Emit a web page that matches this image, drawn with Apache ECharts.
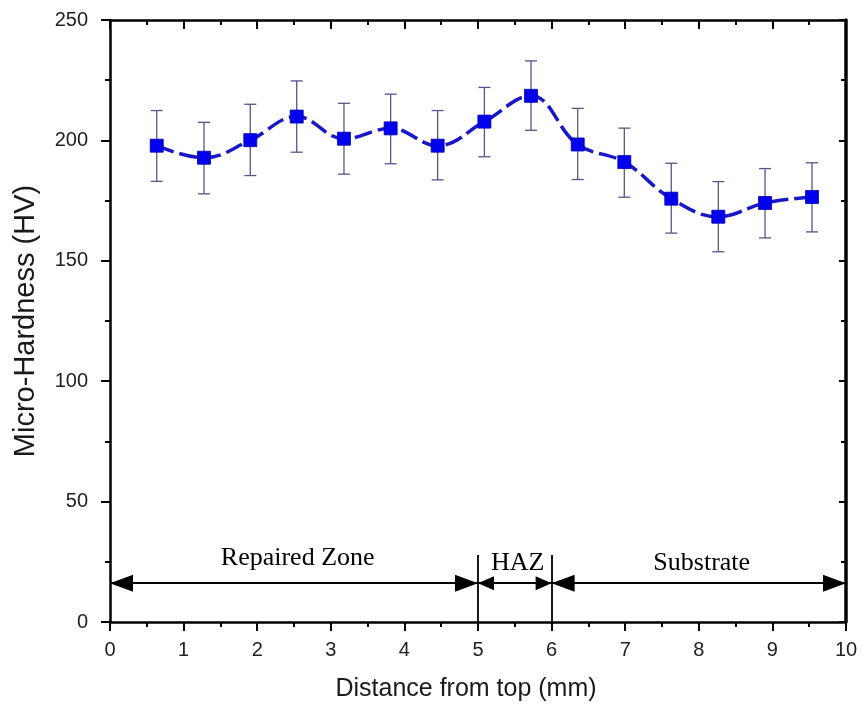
<!DOCTYPE html>
<html>
<head>
<meta charset="utf-8">
<script src="https://cdn.jsdelivr.net/npm/echarts@6/dist/echarts.min.js"></script>
<style>
html,body{margin:0;padding:0;background:#fff;}
#chart{width:862px;height:712px;}
</style>
</head>
<body>
<div id="chart"></div>
<script>
// ---- data ----
var distance = [0.635, 1.277, 1.906, 2.537, 3.179, 3.813, 4.452, 5.087, 5.72, 6.355, 6.988, 7.626, 8.265, 8.9, 9.538];
var hardness = [197.8, 192.8, 200.1, 209.9, 200.7, 205.0, 197.8, 207.8, 218.5, 198.3, 191.0, 175.8, 168.3, 174.0, 176.5];
var errUpper = [212.4, 207.5, 215.0, 224.7, 215.4, 219.2, 212.4, 222.0, 233.0, 213.3, 205.1, 190.5, 182.9, 188.3, 190.7];
var errLower = [183.0, 177.8, 185.4, 195.1, 186.0, 190.3, 183.6, 193.2, 204.2, 183.75, 176.4, 161.5, 153.75, 159.5, 162.0];

var zoneNames = ['Repaired Zone', 'HAZ', 'Substrate'];
var zoneStart = [0, 5, 6];
var zoneEnd = [5, 6, 10];
var zoneLabelX = [2.55, 5.54, 8.04];
var zoneLabelY = [26.4, 24.4, 24.4];
var zoneArrowY = 16.1;
var zoneDividers = [5, 6];
var zoneDividerTop = 27.8;

var xTicks = [0, 1, 2, 3, 4, 5, 6, 7, 8, 9, 10];
var yTicks = [0, 50, 100, 150, 200, 250];

// ---- chart ----
var chart = echarts.init(document.getElementById('chart'), null, {renderer: 'canvas'});

var tickFont = {fontFamily: 'Liberation Sans, Arial, sans-serif', fontSize: 20, color: '#222'};
var axisLineStyle = {color: '#000', width: 2.5};

var headPathBig = 'path://M0,-23 L0,-23 M0,0 L8.5,23 L-8.5,23 Z';
var headPathSmall = 'path://M0,-16 L0,-16 M0,0 L7,16 L-7,16 Z';

var arrowData = zoneNames.map(function (n, i) {
  var small = n === 'HAZ';
  return [
    {coord: [zoneStart[i], zoneArrowY], symbol: small ? headPathSmall : headPathBig, symbolSize: small ? [14, 32] : [17, 46]},
    {coord: [zoneEnd[i], zoneArrowY], symbol: small ? headPathSmall : headPathBig, symbolSize: small ? [14, 32] : [17, 46]}
  ];
});
var dividerData = zoneDividers.map(function (x) {
  return [{coord: [x, 0]}, {coord: [x, zoneDividerTop]}];
});
var labelData = zoneNames.map(function (n, i) { return [zoneLabelX[i], zoneLabelY[i], n]; });

var option = {
  animation: false,
  backgroundColor: '#fff',
  grid: {left: 110, right: 16, top: 20, bottom: 90, containLabel: false},
  xAxis: [{
    type: 'value', min: 0, max: 10, interval: 1, position: 'bottom',
    name: 'Distance from top (mm)', nameLocation: 'middle', nameGap: 55,
    nameTextStyle: {fontFamily: 'Liberation Sans, Arial, sans-serif', fontSize: 25, color: '#1a1a1a', padding: [0, 24, 0, 0]},
    axisLine: {show: true, onZero: false, lineStyle: axisLineStyle},
    axisTick: {show: true, inside: false, length: 9, lineStyle: {color: '#000', width: 2}},
    minorTick: {show: true, splitNumber: 2, length: 5, lineStyle: {color: '#000', width: 2}},
    axisLabel: Object.assign({margin: 18, formatter: function (v) { return xTicks.indexOf(v) >= 0 ? String(v) : ''; }}, tickFont),
    splitLine: {show: false}
  }, {
    type: 'value', min: 0, max: 10, interval: 1, position: 'top',
    axisLine: {show: true, onZero: false, lineStyle: axisLineStyle},
    axisTick: {show: true, inside: true, length: 9, lineStyle: {color: '#000', width: 2}},
    minorTick: {show: true, splitNumber: 2, length: 5, lineStyle: {color: '#000', width: 2}},
    axisLabel: {show: false},
    splitLine: {show: false}
  }],
  yAxis: [{
    type: 'value', min: 0, max: 250, interval: 50, position: 'left',
    name: 'Micro-Hardness (HV)', nameLocation: 'middle', nameGap: 70, nameRotate: 90,
    nameTextStyle: {fontFamily: 'Liberation Sans, Arial, sans-serif', fontSize: 29, color: '#1a1a1a'},
    axisLine: {show: true, onZero: false, lineStyle: axisLineStyle},
    axisTick: {show: true, inside: false, length: 9, lineStyle: {color: '#000', width: 2}},
    minorTick: {show: true, splitNumber: 2, length: 5, lineStyle: {color: '#000', width: 2}},
    axisLabel: Object.assign({margin: 22, formatter: function (v) { return yTicks.indexOf(v) >= 0 ? String(v) : ''; }}, tickFont),
    splitLine: {show: false}
  }, {
    type: 'value', min: 0, max: 250, interval: 50, position: 'right',
    axisLine: {show: true, onZero: false, lineStyle: {color: '#000', width: 3.5}},
    axisTick: {show: true, inside: true, length: 7, lineStyle: {color: '#000', width: 2}},
    minorTick: {show: true, splitNumber: 2, length: 5, lineStyle: {color: '#000', width: 2}},
    axisLabel: {show: false},
    splitLine: {show: false}
  }],
  series: [{
    name: 'errors',
    type: 'custom',
    z: 1,
    data: distance.map(function (x, i) { return [x, errLower[i], errUpper[i]]; }),
    renderItem: function (params, api) {
      var x = api.value(0);
      var pHi = api.coord([x, api.value(2)]);
      var pLo = api.coord([x, api.value(1)]);
      var w = 6;
      var st = {stroke: '#55558a', lineWidth: 1.3};
      return {type: 'group', children: [
        {type: 'line', shape: {x1: pHi[0], y1: pHi[1], x2: pLo[0], y2: pLo[1]}, style: st},
        {type: 'line', shape: {x1: pHi[0] - w, y1: pHi[1], x2: pHi[0] + w, y2: pHi[1]}, style: st},
        {type: 'line', shape: {x1: pLo[0] - w, y1: pLo[1], x2: pLo[0] + w, y2: pLo[1]}, style: st}
      ]};
    }
  }, {
    name: 'hardness',
    type: 'line',
    z: 3,
    smooth: 0.4,
    data: distance.map(function (x, i) { return [x, hardness[i]]; }),
    symbol: 'rect',
    symbolSize: 13,
    itemStyle: {color: '#0000ee', borderColor: '#0000b0', borderWidth: 0.8},
    lineStyle: {color: '#1818c8', width: 3.5, type: [18, 6]}
  }, {
    name: 'zones',
    type: 'line',
    z: 4,
    data: [],
    markLine: {
      silent: true,
      animation: false,
      label: {show: false},
      lineStyle: {color: '#000', width: 2, type: 'solid'},
      emphasis: {disabled: true},
      data: arrowData
    }
  }, {
    name: 'dividers',
    type: 'line',
    z: 4,
    data: [],
    markLine: {
      silent: true,
      animation: false,
      symbol: ['none', 'none'],
      label: {show: false},
      lineStyle: {color: '#000', width: 1.8, type: 'solid'},
      emphasis: {disabled: true},
      data: dividerData
    }
  }, {
    name: 'zoneLabels',
    type: 'scatter',
    z: 5,
    symbolSize: 0,
    silent: true,
    data: labelData,
    itemStyle: {color: '#000', opacity: 1},
    label: {
      show: true, position: 'inside',
      formatter: function (p) { return p.data[2]; },
      fontFamily: 'Liberation Serif, Times New Roman, serif',
      fontSize: 26, color: '#000', opacity: 1,
      textBorderWidth: 0, textBorderColor: 'transparent'
    }
  }]
};
chart.setOption(option);
</script>
</body>
</html>
